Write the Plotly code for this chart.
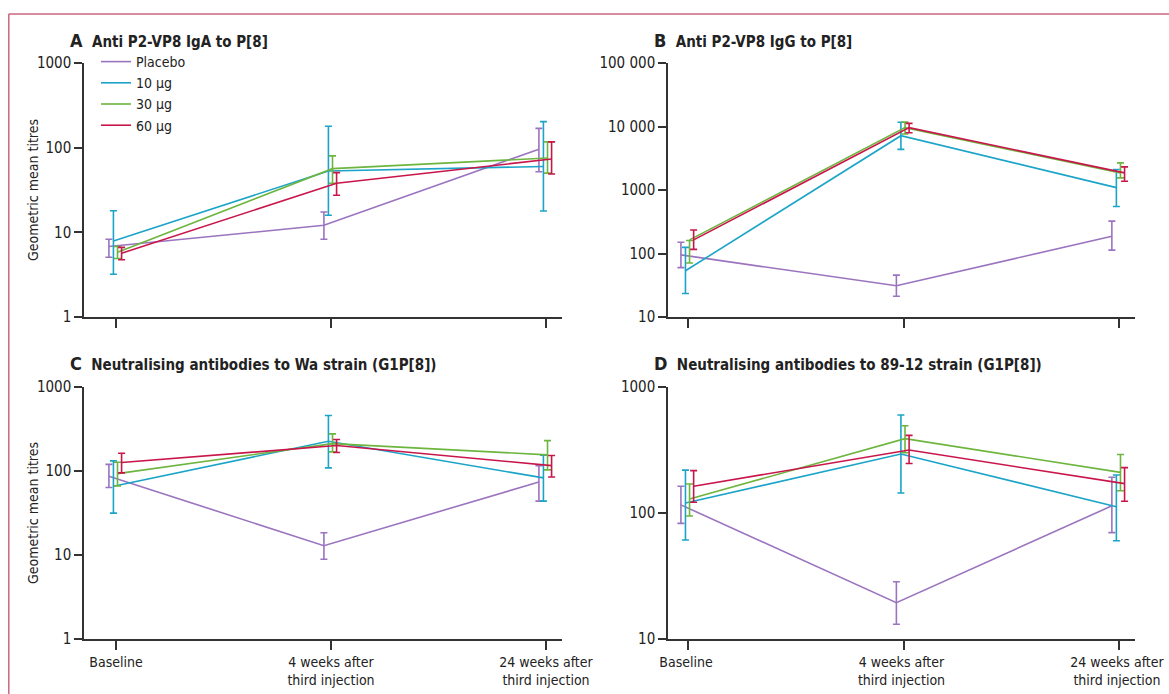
import plotly.graph_objects as go

# ---------------- data ----------------
timepoints = ["Baseline", "4 weeks after<br>third injection", "24 weeks after<br>third injection"]
groups = ["Placebo", "10 µg", "30 µg", "60 µg"]

# Panel A: Anti P2-VP8 IgA to P[8]
a_gmt = {"Placebo": [6.8, 12.1, 96], "10 µg": [7.9, 53, 60], "30 µg": [5.8, 56.5, 75.5], "60 µg": [5.65, 38, 73.5]}
a_hi = {"Placebo": [8.3, 17.4, 169], "10 µg": [18, 179, 203], "30 µg": [6.8, 80, 117], "60 µg": [6.65, 50.7, 117]}
a_lo = {"Placebo": [5.07, 8.3, 52], "10 µg": [3.2, 15.9, 17.9], "30 µg": [4.9, 38, 50], "60 µg": [4.75, 27.4, 48.9]}

# Panel B: Anti P2-VP8 IgG to P[8]
b_gmt = {"Placebo": [95, 31, 187], "10 µg": [53.5, 7160, 1090], "30 µg": [164, 9590, 1860], "60 µg": [164, 9590, 1860]}
b_hi = {"Placebo": [150, 45.7, 323], "10 µg": [125, 11650, 2100], "30 µg": [160, 11700, 2670], "60 µg": [235, 11200, 2310]}
b_lo = {"Placebo": [60, 21.2, 113], "10 µg": [23.4, 4360, 551], "30 µg": [71, 7600, 1550], "60 µg": [116, 7980, 1370]}

# Panel C: Neutralising antibodies to Wa strain (G1P[8])
c_gmt = {"Placebo": [86.7, 12.9, 74], "10 µg": [66, 226, 82.8], "30 µg": [93, 212, 155.6], "60 µg": [126, 201, 116]}
c_hi = {"Placebo": [120, 18.4, 116], "10 µg": [132, 457, 154], "30 µg": [127, 277, 230], "60 µg": [163, 237, 153]}
c_lo = {"Placebo": [63.6, 8.9, 43.8], "10 µg": [31.5, 109, 43.8], "30 µg": [66.5, 169, 103], "60 µg": [95, 166, 85]}

# Panel D: Neutralising antibodies to 89-12 strain (G1P[8])
d_gmt = {"Placebo": [116, 19.4, 114], "10 µg": [120, 294, 112], "30 µg": [129, 389, 210], "60 µg": [163, 316, 171]}
d_hi = {"Placebo": [163, 28.5, 192], "10 µg": [219, 600, 200], "30 µg": [170, 493, 291], "60 µg": [217, 413, 229]}
d_lo = {"Placebo": [82.8, 13.1, 69.8], "10 µg": [61, 144, 60.3], "30 µg": [94.6, 301, 150], "60 µg": [121.6, 247, 124]}

panel_titles = ["Anti P2-VP8 IgA to P[8]", "Anti P2-VP8 IgG to P[8]",
                "Neutralising antibodies to Wa strain (G1P[8])",
                "Neutralising antibodies to 89-12 strain (G1P[8])"]
panel_letters = ["A", "B", "C", "D"]

a_ticks = [1, 10, 100, 1000]
a_ticktext = ["1", "10", "100", "1000"]
b_ticks = [10, 100, 1000, 10000, 100000]
b_ticktext = ["10", "100", "1000", "10 000", "100 000"]
d_ticks = [10, 100, 1000]
d_ticktext = ["10", "100", "1000"]

# ---------------- style ----------------
colors = {"Placebo": "#9b74bf", "10 µg": "#1ba4c8", "30 µg": "#6db53f", "60 µg": "#c8164a"}
dodge = {"Placebo": -0.033, "10 µg": -0.012, "30 µg": 0.007, "60 µg": 0.026}
FONT = "Liberation Sans Narrow, DejaVu Sans Condensed, Arial Narrow, sans-serif"
TXT = "#222222"

W, H = 1169, 694
def px_x(p): return p / W
def px_y(p): return 1 - p / H

panels = [
    dict(data=(a_gmt, a_hi, a_lo), xd=(84, 562), yd=(63, 317), yr=(0, 3), tv=a_ticks, tt=a_ticktext, xl=-32 / 215),
    dict(data=(b_gmt, b_hi, b_lo), xd=(668, 1135), yd=(63, 317), yr=(1, 5), tv=b_ticks, tt=b_ticktext, xl=-20 / 215),
    dict(data=(c_gmt, c_hi, c_lo), xd=(84, 562), yd=(387, 639), yr=(0, 3), tv=a_ticks, tt=a_ticktext, xl=-32 / 215),
    dict(data=(d_gmt, d_hi, d_lo), xd=(668, 1135), yd=(387, 639), yr=(1, 3), tv=d_ticks, tt=d_ticktext, xl=-20 / 215),
]

fig = go.Figure()
layout = {}
for i, p in enumerate(panels):
    n = "" if i == 0 else str(i + 1)
    gmt, hi, lo = p["data"]
    for g in groups:
        xs = [k + dodge[g] for k in range(len(timepoints))]
        fig.add_trace(go.Scatter(
            x=xs, y=gmt[g], mode="lines", name=g,
            line=dict(color=colors[g], width=1.6),
            error_y=dict(type="data", symmetric=False,
                         array=[h - m for h, m in zip(hi[g], gmt[g])],
                         arrayminus=[m - l for m, l in zip(gmt[g], lo[g])],
                         color=colors[g], thickness=1.6, width=3.5),
            xaxis="x" + n, yaxis="y" + n, showlegend=(i == 0),
            hoverinfo="skip"))
    bottom = i >= 2
    layout["xaxis" + n] = dict(
        domain=[px_x(p["xd"][0]), px_x(p["xd"][1])], anchor="y" + n,
        range=[p["xl"], 2 + 16 / 215], tickvals=[0, 1, 2],
        ticktext=timepoints if bottom else ["", "", ""],
        showline=True, linecolor="#333333", linewidth=1.5,
        ticks="outside", ticklen=9, tickwidth=1.5, tickcolor="#333333",
        showgrid=False, zeroline=False, fixedrange=True, automargin=False,
        ticklabeloverflow="allow", ticklabelshift=(-2 if i == 3 else 0),
        tickfont=dict(family=FONT, size=14, color=TXT))
    layout["yaxis" + n] = dict(
        domain=[px_y(p["yd"][1]), px_y(p["yd"][0])], anchor="x" + n,
        type="log", range=list(p["yr"]), tickvals=p["tv"], ticktext=p["tt"],
        showline=True, linecolor="#333333", linewidth=1.5,
        ticks="outside", ticklen=8, tickwidth=1.5, tickcolor="#333333",
        showgrid=False, zeroline=False, fixedrange=True, automargin=False,
        tickfont=dict(family=FONT, size=15, color=TXT))

annotations = []
title_pos = [(68, 40), (652, 40), (68, 363), (652, 363)]
for i in range(4):
    x0, y0 = title_pos[i]
    annotations.append(dict(
        x=px_x(x0), y=px_y(y0), xref="paper", yref="paper", xanchor="left", yanchor="middle",
        showarrow=False,
        text="<b><span style='font-size:18px'>" + panel_letters[i] + "</span>  " + panel_titles[i] + "</b>",
        font=dict(family=FONT, size=15, color=TXT)))
for yc in [(63 + 317) / 2, (387 + 639) / 2]:
    annotations.append(dict(
        x=px_x(33), y=px_y(yc), xref="paper", yref="paper", xanchor="center", yanchor="middle",
        showarrow=False, textangle=-90, text="Geometric mean titres",
        font=dict(family=FONT, size=14, color=TXT)))

shapes = [
    dict(type="line", xref="paper", yref="paper", x0=px_x(8.8), x1=px_x(8.8), y0=px_y(14), y1=0,
         line=dict(color="#cc6680", width=1.5)),
    dict(type="line", xref="paper", yref="paper", x0=px_x(8.8), x1=1, y0=px_y(14), y1=px_y(14),
         line=dict(color="#cc6680", width=1.5)),
]

fig.update_layout(
    width=W, height=H, margin=dict(l=0, r=0, t=0, b=0, autoexpand=False),
    paper_bgcolor="white", plot_bgcolor="white",
    annotations=annotations, shapes=shapes,
    legend=dict(x=px_x(96), y=px_y(46), xanchor="left", yanchor="top",
                bgcolor="rgba(0,0,0,0)", tracegroupgap=0, itemwidth=30,
                font=dict(family=FONT, size=14, color=TXT)),
    **layout)

fig.write_html("out.html", config={"displayModeBar": False},
               post_script="document.body.style.margin='0';document.body.style.overflow='hidden';")
